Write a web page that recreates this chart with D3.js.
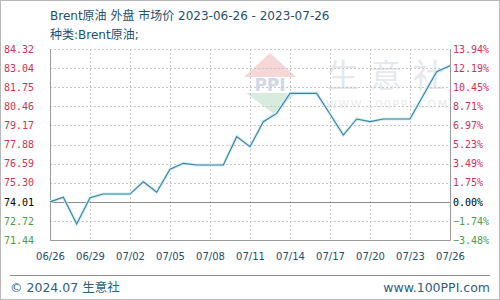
<!DOCTYPE html>
<html>
<head>
<meta charset="utf-8">
<script src="https://cdn.jsdelivr.net/npm/d3@7"></script>
<style>
  body { margin: 0; background: #fff; }
  svg { display: block; }
</style>
</head>
<body>
<div id="chart"></div>
<script>
// Brent crude daily price
const dates = ["2023-06-26","2023-06-27","2023-06-28","2023-06-29","2023-06-30","2023-07-01","2023-07-02",
  "2023-07-03","2023-07-04","2023-07-05","2023-07-06","2023-07-07","2023-07-08","2023-07-09",
  "2023-07-10","2023-07-11","2023-07-12","2023-07-13","2023-07-14","2023-07-15","2023-07-16",
  "2023-07-17","2023-07-18","2023-07-19","2023-07-20","2023-07-21","2023-07-22","2023-07-23",
  "2023-07-24","2023-07-25","2023-07-26"]
const prices = [74.01, 74.32, 72.52, 74.29, 74.54, 74.54, 74.54,
  75.37, 74.66, 76.21, 76.61, 76.50, 76.50, 76.50,
  78.41, 77.73, 79.42, 79.98, 81.33, 81.33, 81.33,
  79.94, 78.52, 79.60, 79.42, 79.60, 79.60, 79.60,
  81.20, 82.79, 83.19]

const priceTicks = [84.32, 83.04, 81.75, 80.46, 79.17, 77.88, 76.59, 75.30, 74.01, 72.72, 71.44]
const pctTicks = [13.94, 12.19, 10.45, 8.71, 6.97, 5.23, 3.49, 1.75, 0.00, -1.74, -3.48]
const xTickLabels = ["06/26","06/29","07/02","07/05","07/08","07/11","07/14","07/17","07/20","07/23","07/26"]
const basePrice = 74.01

const W = 500, H = 300
const margin = {top: 49, right: 50, bottom: 60, left: 50}
const width = W - margin.left - margin.right
const height = H - margin.top - margin.bottom

const parse = d3.timeParse("%Y-%m-%d")
const data = dates.map((d, i) => ({date: parse(d), price: prices[i]}))

const svg = d3.select("#chart").append("svg")
    .attr("width", W)
    .attr("height", H)

// outer frame
svg.append("rect")
    .attr("x", 0.5).attr("y", 0.5)
    .attr("width", W - 1).attr("height", H - 1)
    .attr("fill", "#fff")
    .attr("stroke", "#b8b8b8")

// titles
svg.append("text")
    .attr("x", 50).attr("y", 20)
    .style("font-family", "'DejaVu Sans', 'Noto Sans CJK SC', sans-serif")
    .style("font-size", "12px")
    .attr("fill", "#1f4f6e")
    .text("Brent原油 外盘 市场价 2023-06-26 - 2023-07-26")

svg.append("text")
    .attr("x", 50).attr("y", 39)
    .style("font-family", "'DejaVu Sans', 'Noto Sans CJK SC', sans-serif")
    .style("font-size", "12px")
    .attr("fill", "#1f4f6e")
    .text("种类:Brent原油;")

const g = svg.append("g")
    .attr("transform", `translate(${margin.left},${margin.top})`)

const x = d3.scaleTime()
    .domain([parse("2023-06-26"), parse("2023-07-26")])
    .range([0, width])

const y = d3.scaleLinear()
    .domain([priceTicks[priceTicks.length - 1], priceTicks[0]])
    .range([height, 0])

const yPct = d3.scaleLinear()
    .domain([pctTicks[pctTicks.length - 1], pctTicks[0]])
    .range([height, 0])

const xTickDates = xTickLabels.map(s => parse("2023-" + s.replace("/", "-")))

// watermark
const wm = g.append("g").attr("opacity", 0.9)
wm.append("path")
    .attr("d", "M220,4 L246,28 L194,28 Z")
    .attr("fill", "#f6d2d2")
wm.append("path")
    .attr("d", "M196,44 L246,44 L224,65 Z")
    .attr("fill", "#d3eadb")
wm.append("text")
    .attr("x", 220).attr("y", 42)
    .attr("text-anchor", "middle")
    .style("font-family", "'DejaVu Sans', sans-serif")
    .style("font-size", "17px")
    .style("font-weight", "bold")
    .attr("fill", "#ccd5e6")
    .text("PPI")
wm.selectAll(".wm-char")
    .data(["生", "意", "社"])
    .enter()
    .append("text")
    .attr("class", "wm-char")
    .attr("x", (d, i) => 277 + i * 43)
    .attr("y", 38)
    .style("font-family", "'Noto Sans CJK SC', sans-serif")
    .style("font-size", "32px")
    .attr("fill", "#e3e7eb")
    .text(d => d)
wm.append("text")
    .attr("x", 276).attr("y", 59)
    .style("font-family", "'DejaVu Sans', sans-serif")
    .style("font-size", "11px")
    .style("letter-spacing", "1.5px")
    .attr("fill", "#e8e8e8")
    .text("WWW.100PPI.COM")

// horizontal grid
g.append("g")
    .selectAll("line")
    .data(priceTicks)
    .enter()
    .append("line")
    .attr("x1", 0).attr("x2", width)
    .attr("y1", d => Math.round(y(d)) + 0.5)
    .attr("y2", d => Math.round(y(d)) + 0.5)
    .attr("stroke", "#c8c8c8")
    .attr("stroke-dasharray", "2,2")

// vertical grid
g.append("g")
    .selectAll("line")
    .data(xTickDates)
    .enter()
    .append("line")
    .attr("x1", d => Math.round(x(d)) + 0.5)
    .attr("x2", d => Math.round(x(d)) + 0.5)
    .attr("y1", 0).attr("y2", height)
    .attr("stroke", "#c8c8c8")
    .attr("stroke-dasharray", "2,2")

// base line (0%)
g.append("line")
    .attr("x1", 0).attr("x2", width)
    .attr("y1", Math.round(y(basePrice)) + 0.5)
    .attr("y2", Math.round(y(basePrice)) + 0.5)
    .attr("stroke", "#8c8c8c")

// plot frame: left, right, bottom
g.append("path")
    .attr("d", `M0.5,0 V${height + 0.5} H${width + 0.5} V0`)
    .attr("fill", "none")
    .attr("stroke", "#9a9a9a")

// price line
const line = d3.line()
    .x(d => x(d.date))
    .y(d => y(d.price))

g.append("path")
    .datum(data)
    .attr("fill", "none")
    .attr("stroke", "#cdeff6")
    .attr("stroke-width", 3)
    .attr("d", line)

g.append("path")
    .datum(data)
    .attr("fill", "none")
    .attr("stroke", "#3f7f9e")
    .attr("stroke-width", 1.1)
    .attr("d", line)

// colours for the labels: up red, base black, down green
function tickColor(v) {
    if (Math.abs(v) < 1e-9) return "#000"
    return v > 0 ? "#cc3355" : "#4c9a4c"
}

// left axis
const yAxis = d3.axisLeft(y)
    .tickValues(priceTicks)
    .tickSize(0)
    .tickPadding(16)
    .tickFormat(d3.format(".2f"))
g.append("g")
    .attr("class", "y-axis")
    .call(yAxis)
    .call(a => a.select(".domain").remove())
    .selectAll("text")
    .style("font-family", "'DejaVu Sans Mono', monospace")
    .style("font-size", "10px")
    .attr("fill", d => tickColor(+(d - basePrice).toFixed(2)))

// right axis
const yAxisR = d3.axisRight(yPct)
    .tickValues(pctTicks)
    .tickSize(0)
    .tickPadding(3)
    .tickFormat(d => d3.format(".2f")(d) + "%")
g.append("g")
    .attr("class", "y-axis-right")
    .attr("transform", `translate(${width},0)`)
    .call(yAxisR)
    .call(a => a.select(".domain").remove())
    .selectAll("text")
    .style("font-family", "'DejaVu Sans Mono', monospace")
    .style("font-size", "10px")
    .attr("fill", d => tickColor(d))

// x axis
const xAxis = d3.axisBottom(x)
    .tickValues(xTickDates)
    .tickSize(0)
    .tickPadding(13)
    .tickFormat(d3.timeFormat("%m/%d"))
g.append("g")
    .attr("class", "x-axis")
    .attr("transform", `translate(0,${height})`)
    .call(xAxis)
    .call(a => a.select(".domain").remove())
    .selectAll("text")
    .style("font-family", "'DejaVu Sans', sans-serif")
    .style("font-size", "10px")
    .attr("fill", "#2a4d6b")

// footer
svg.append("line")
    .attr("x1", 10).attr("x2", 490)
    .attr("y1", 275.5).attr("y2", 275.5)
    .attr("stroke", "#8c8c8c")

svg.append("text")
    .attr("x", 10).attr("y", 292)
    .style("font-family", "'DejaVu Sans', 'Noto Sans CJK SC', sans-serif")
    .style("font-size", "12.5px")
    .attr("fill", "#2f5d80")
    .text("© 2024.07 生意社")

svg.append("text")
    .attr("x", 490).attr("y", 292)
    .attr("text-anchor", "end")
    .style("font-family", "'DejaVu Sans', sans-serif")
    .style("font-size", "12.5px")
    .attr("fill", "#2f5d80")
    .text("www.100PPI.com")
</script>
</body>
</html>
